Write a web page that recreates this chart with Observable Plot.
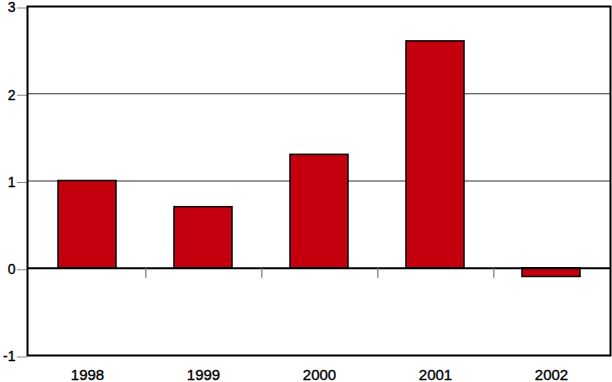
<!DOCTYPE html>
<html><head><meta charset="utf-8">
<script src="https://cdn.jsdelivr.net/npm/d3@7"></script>
<script src="https://cdn.jsdelivr.net/npm/@observablehq/plot@0.6"></script>
<style>
body{margin:0;background:#fff}
g[aria-label="y-axis tick label"] text{font-size:14px;stroke:#000;stroke-width:0.35px}
g[aria-label="x-axis tick label"] text{font-size:15px;stroke:#000;stroke-width:0.35px}
</style>
</head><body><div id="chart"></div>
<script>
const years = ["1998", "1999", "2000", "2001", "2002"];
const values = [1.0, 0.7, 1.3, 2.6, -0.1];
const yTicks = [-1, 0, 1, 2, 3];
const gridValues = [1, 2];

const data = years.map((y, i) => ({year: y, value: values[i]}));
const W = 612, H = 382, mL = 27, mR = 2;
const step = (W - mL - mR) / years.length;

const chart = Plot.plot({
  width: W, height: H,
  marginLeft: mL, marginRight: mR, marginTop: 6, marginBottom: 27,
  style: {fontFamily: "Liberation Sans, Arial, sans-serif", fontSize: "15px", background: "#fff"},
  x: {domain: years, paddingInner: 0.5, paddingOuter: 0.25, label: null},
  y: {domain: [-1, 3], label: null},
  marks: [
    Plot.ruleY(gridValues, {stroke: "#333", strokeWidth: 1}),
    Plot.barY(data, {x: "year", y: "value", fill: "#c4000f", stroke: "#000", strokeWidth: 1.5}),
    Plot.ruleY([0], {stroke: "#000", strokeWidth: 2}),
    Plot.ruleX(years.slice(0, -1), {x: d => d, y1: 0, y2: -0.115, dx: step / 2, stroke: "#777", strokeWidth: 1.2}),
    Plot.axisY({ticks: yTicks, tickSize: 10, tickPadding: 2, stroke: "#888", fill: "#000", tickFormat: d => String(d), fontSize: 14, dy: 1.5}),
    Plot.axisX({tickSize: 0, tickPadding: 14, fill: "#000", fontSize: 15}),
    Plot.frame({stroke: "#000", strokeWidth: 2})
  ]
});
document.getElementById("chart").appendChild(chart);
</script>
</body></html>
